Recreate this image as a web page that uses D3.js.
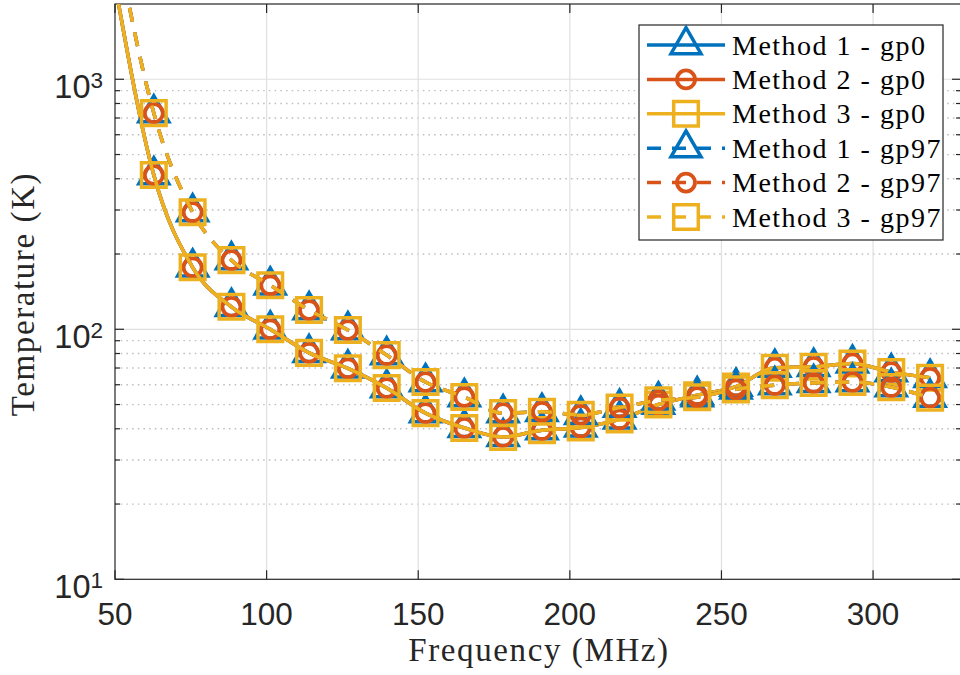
<!DOCTYPE html>
<html>
<head>
<meta charset="utf-8">
<script src="https://cdn.jsdelivr.net/npm/d3@7"></script>
<style>
  body { margin: 0; background: #fff; }
  svg { display: block; }
</style>
</head>
<body>
<script>
// ---- data ----
const freqMHz = [62.8, 75.6, 88.4, 101.2, 114.0, 126.8, 139.6, 152.4, 165.2, 178.0, 190.8,
                 203.6, 216.4, 229.2, 242.0, 254.8, 267.6, 280.4, 293.2, 306.0, 318.8];

// lines start at the band edge, above the visible range
const leadFreqMHz = 50;
const leadGp0 = 2400;
const leadGp97 = 3800;

const method1Gp0 = [414, 177, 123, 100, 80.5, 69.8, 58.2, 46.2, 40.3, 37.1, 39.5,
                    40.5, 43.6, 50, 54.5, 59, 70.2, 70.8, 73, 67.4, 64];
const method2Gp0 = [414, 177, 123, 100, 80.5, 69.8, 58.2, 46.2, 40.3, 37.1, 39.5,
                    40.5, 43.6, 50, 54.5, 59, 70.2, 70.8, 73, 67.4, 64];
const method3Gp0 = [414, 177, 123, 100, 80.5, 69.8, 58.2, 46.2, 40.3, 37.1, 39.5,
                    40.5, 43.6, 50, 54.5, 59, 70.2, 70.8, 73, 67.4, 64];

const method1Gp97 = [732, 294, 189, 150, 119.4, 99.3, 78.8, 61.5, 53.6, 46.2, 46.8,
                     45.5, 48.6, 52, 53.5, 57.5, 59.8, 61, 61.5, 58.7, 53.3];
const method2Gp97 = [732, 294, 189, 150, 119.4, 99.3, 78.8, 61.5, 53.6, 46.2, 46.8,
                     45.5, 48.6, 52, 53.5, 57.5, 59.8, 61, 61.5, 58.7, 53.3];
const method3Gp97 = [732, 294, 189, 150, 119.4, 99.3, 78.8, 61.5, 53.6, 46.2, 46.8,
                     45.5, 48.6, 52, 53.5, 57.5, 59.8, 61, 61.5, 58.7, 53.3];

const xTicks = [50, 100, 150, 200, 250, 300];
const yDecades = [1, 2, 3];
const seriesLabels = ["Method 1 - gp0", "Method 2 - gp0", "Method 3 - gp0",
                      "Method 1 - gp97", "Method 2 - gp97", "Method 3 - gp97"];

// ---- layout ----
const W = 960, H = 675;
const colors = { m1: "#0072BD", m2: "#D95319", m3: "#EDB120" };
const axisColor = "#262626";

const x = d3.scaleLinear().domain([50, 329]).range([115, 961]);
const y = d3.scaleLog().domain([10, 2000]).range([579.3, 4]);

const svg = d3.select("body").append("svg").attr("width", W).attr("height", H);

const plotL = x.range()[0], plotR = x.range()[1];
const plotT = y.range()[1], plotB = y.range()[0];

svg.append("defs").append("clipPath").attr("id", "plotClip")
  .append("rect").attr("x", plotL).attr("y", plotT)
  .attr("width", plotR - plotL).attr("height", plotB - plotT);

// ---- grid ----
const grid = svg.append("g");
const minorVals = [];
yDecades.forEach(d => { for (let k = 2; k <= 9; k++) minorVals.push(k * Math.pow(10, d - 1)); });
const minorIn = minorVals.filter(v => v > 10 && v < 2000);

grid.selectAll(".ymin").data(minorIn).join("line")
  .attr("x1", plotL).attr("x2", plotR)
  .attr("y1", d => y(d)).attr("y2", d => y(d))
  .attr("stroke", "#bdbdbd").attr("stroke-width", 1.3)
  .attr("stroke-dasharray", "1.5,4.2");

grid.selectAll(".xmaj").data(xTicks.slice(1)).join("line")
  .attr("x1", d => x(d)).attr("x2", d => x(d))
  .attr("y1", plotT).attr("y2", plotB)
  .attr("stroke", "#e0e0e0").attr("stroke-width", 1.2);

grid.selectAll(".ymaj").data([100, 1000]).join("line")
  .attr("x1", plotL).attr("x2", plotR)
  .attr("y1", d => y(d)).attr("y2", d => y(d))
  .attr("stroke", "#e0e0e0").attr("stroke-width", 1.2);

// ---- axes box & ticks ----
const ax = svg.append("g").attr("stroke", axisColor).attr("stroke-width", 1.2);
ax.append("rect").attr("x", plotL).attr("y", plotT)
  .attr("width", plotR - plotL).attr("height", plotB - plotT).attr("fill", "none");

const majLen = 9, minLen = 5;
xTicks.forEach(t => {
  ax.append("line").attr("x1", x(t)).attr("x2", x(t)).attr("y1", plotB).attr("y2", plotB - majLen);
  ax.append("line").attr("x1", x(t)).attr("x2", x(t)).attr("y1", plotT).attr("y2", plotT + majLen);
});
[10, 100, 1000].forEach(v => {
  ax.append("line").attr("x1", plotL).attr("x2", plotL + majLen).attr("y1", y(v)).attr("y2", y(v));
  ax.append("line").attr("x1", plotR).attr("x2", plotR - majLen).attr("y1", y(v)).attr("y2", y(v));
});
minorIn.forEach(v => {
  ax.append("line").attr("x1", plotL).attr("x2", plotL + minLen).attr("y1", y(v)).attr("y2", y(v));
  ax.append("line").attr("x1", plotR).attr("x2", plotR - minLen).attr("y1", y(v)).attr("y2", y(v));
});

// tick labels
const tickFont = "'Liberation Sans', Arial, Helvetica, sans-serif";
svg.append("g").selectAll("text").data(xTicks).join("text")
  .attr("x", d => x(d)).attr("y", 625)
  .attr("text-anchor", "middle")
  .attr("font-family", tickFont).attr("font-size", 31.5).attr("fill", axisColor)
  .text(d => d);

const yl = svg.append("g").selectAll("text").data(yDecades).join("text")
  .attr("x", 103).attr("y", d => y(Math.pow(10, d)) + 19)
  .attr("text-anchor", "end")
  .attr("font-family", tickFont).attr("fill", axisColor);
yl.append("tspan").attr("font-size", 32.5).text("10");
yl.append("tspan").attr("font-size", 22.5).attr("dy", -10).text(d => d);

// axis labels
const labelFont = "'Liberation Serif', 'Times New Roman', serif";
svg.append("text").attr("x", 539).attr("y", 661)
  .attr("text-anchor", "middle").attr("font-family", labelFont)
  .attr("font-size", 33).attr("letter-spacing", 1.6).attr("fill", axisColor)
  .text("Frequency (MHz)");
svg.append("text").attr("transform", "translate(33.5,294) rotate(-90)")
  .attr("text-anchor", "middle").attr("font-family", labelFont)
  .attr("font-size", 33).attr("letter-spacing", 1.6).attr("fill", axisColor)
  .text("Temperature (K)");

// ---- markers ----
const triSide = 30;
const triH = triSide * Math.sqrt(3) / 2;
function markerPath(kind) {
  if (kind === "tri") {
    return `M0,${-2 * triH / 3}L${triSide / 2},${triH / 3}L${-triSide / 2},${triH / 3}Z`;
  }
  if (kind === "sq") {
    const h = 12.3;
    return `M${-h},${-h}L${h},${-h}L${h},${h}L${-h},${h}Z`;
  }
  const r = 9;
  return `M${r},0A${r},${r} 0 1,1 ${-r},0A${r},${r} 0 1,1 ${r},0Z`;
}
const markerStroke = { tri: 3.5, sq: 3.5, circ: 3.8 };

// ---- series ----
const series = [
  { label: seriesLabels[0], vals: method1Gp0, lead: leadGp0, color: colors.m1, marker: "tri", dash: null },
  { label: seriesLabels[1], vals: method2Gp0, lead: leadGp0, color: colors.m2, marker: "circ", dash: null },
  { label: seriesLabels[2], vals: method3Gp0, lead: leadGp0, color: colors.m3, marker: "sq", dash: null },
  { label: seriesLabels[3], vals: method1Gp97, lead: leadGp97, color: colors.m1, marker: "tri", dash: "14,11" },
  { label: seriesLabels[4], vals: method2Gp97, lead: leadGp97, color: colors.m2, marker: "circ", dash: "14,11" },
  { label: seriesLabels[5], vals: method3Gp97, lead: leadGp97, color: colors.m3, marker: "sq", dash: "14,11" }
];

const line = d3.line().x(d => x(d[0])).y(d => y(d[1])).curve(d3.curveMonotoneX);
const plotG = svg.append("g").attr("clip-path", "url(#plotClip)");

series.forEach(s => {
  const pts = [[leadFreqMHz, s.lead]].concat(freqMHz.map((f, i) => [f, s.vals[i]]));
  plotG.append("path").attr("d", line(pts))
    .attr("fill", "none").attr("stroke", s.color).attr("stroke-width", 3.5)
    .attr("stroke-dasharray", s.dash);
  plotG.append("g").selectAll("path").data(freqMHz.map((f, i) => [f, s.vals[i]])).join("path")
    .attr("transform", d => `translate(${x(d[0])},${y(d[1])})`)
    .attr("d", markerPath(s.marker))
    .attr("fill", "none").attr("stroke", s.color)
    .attr("stroke-width", markerStroke[s.marker]).attr("stroke-linejoin", "miter");
});

// ---- legend ----
const lg = svg.append("g");
lg.append("rect").attr("x", 639).attr("y", 25).attr("width", 304).attr("height", 215)
  .attr("fill", "#fff").attr("stroke", axisColor).attr("stroke-width", 1.2);
series.forEach((s, i) => {
  const cy = 45 + i * 34.4;
  lg.append("line").attr("x1", 647).attr("x2", 725).attr("y1", cy).attr("y2", cy)
    .attr("stroke", s.color).attr("stroke-width", 3.5).attr("stroke-dasharray", s.dash);
  lg.append("path").attr("transform", `translate(686,${cy})`)
    .attr("d", markerPath(s.marker))
    .attr("fill", "none").attr("stroke", s.color)
    .attr("stroke-width", markerStroke[s.marker]);
  lg.append("text").attr("x", 732).attr("y", cy + 9.5)
    .attr("font-family", labelFont).attr("font-size", 28).attr("letter-spacing", 1.5)
    .attr("fill", "#000").text(s.label);
});
</script>
</body>
</html>
